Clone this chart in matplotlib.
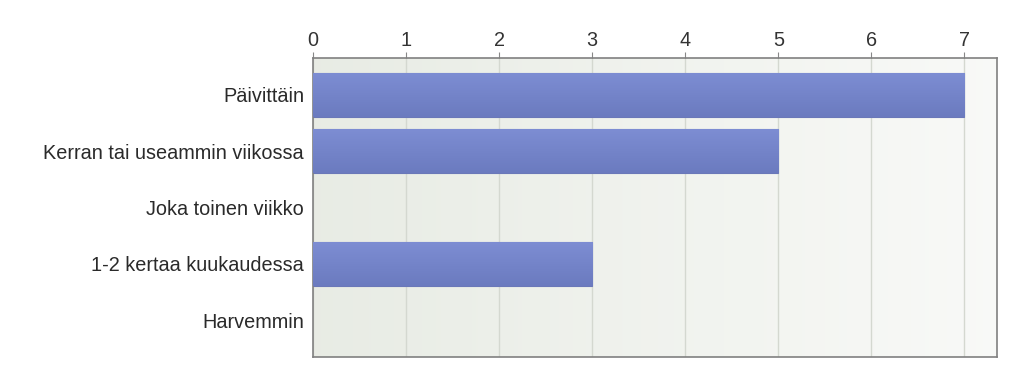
import matplotlib
matplotlib.use("Agg")
import matplotlib.pyplot as plt
import numpy as np

categories = ["Päivittäin", "Kerran tai useammin viikossa", "Joka toinen viikko",
              "1-2 kertaa kuukaudessa", "Harvemmin"]
counts = [7, 5, 0, 3, 0]
ticks = [0, 1, 2, 3, 4, 5, 6, 7]

plt.rcParams['font.family'] = ['Liberation Sans', 'DejaVu Sans']

fig = plt.figure(figsize=(10.23, 3.82), dpi=100)
ax = fig.add_axes([0.306, 0.0654, 0.6686, 0.7826])

xmax = 7.35
ypos = np.arange(len(categories))
ax.set_xlim(0, xmax)
ax.set_ylim(len(categories) - 0.35, -0.65)

# background gradient (greenish grey to near white)
grad = np.linspace(0, 1, 256).reshape(1, -1)
c0 = np.array([0.910, 0.925, 0.896])
c1 = np.array([0.975, 0.978, 0.970])
img = c0 + (c1 - c0) * grad[..., None]
ax.imshow(img, extent=[0, xmax, len(categories) - 0.35, -0.65], aspect='auto', zorder=0)

for t in ticks:
    ax.axvline(t, color='#d4d8d0', lw=1, zorder=1)

bars = ax.barh(ypos, counts, height=0.78, color='#7a8ad0', edgecolor='#6a78b8', lw=0.8, zorder=2)
# vertical shading on bars
shade = np.linspace(0, 1, 64).reshape(-1, 1)
b0 = np.array([0.490, 0.553, 0.827])
b1 = np.array([0.420, 0.482, 0.750])
bimg = b0 + (b1 - b0) * shade[..., None]
for b in bars:
    if b.get_width() > 0:
        x0, y0 = b.get_x(), b.get_y()
        ax.imshow(bimg, extent=[x0, x0 + b.get_width(), y0 + b.get_height(), y0],
                  aspect='auto', zorder=3)
    else:
        b.set_linewidth(0)

ax.set_yticks(ypos)
ax.set_yticklabels(categories, fontsize=14.3, color='#2a2a2a')
ax.set_xticks(ticks)
ax.xaxis.tick_top()
ax.tick_params(axis='x', top=True, bottom=False, length=4, color='#888888',
               labelsize=14.3, labelcolor='#333333', pad=2)
ax.tick_params(axis='y', left=False, pad=3)
for s in ax.spines.values():
    s.set_color('#808080')
    s.set_linewidth(1.2)

fig.savefig("out.png", dpi=100)
